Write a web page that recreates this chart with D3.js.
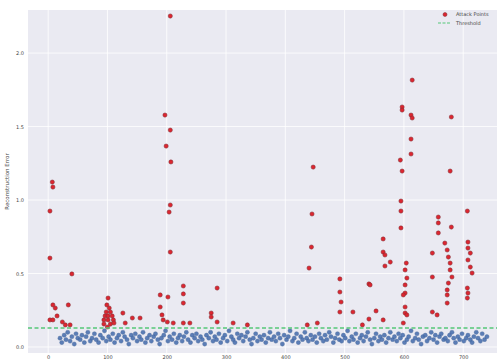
<!DOCTYPE html>
<html>
<head>
<meta charset="utf-8">
<script src="https://cdn.jsdelivr.net/npm/d3@7"></script>
<style>
  body { margin: 0; background: #fff; }
  text { font-family: "DejaVu Sans", sans-serif; fill: #444; }
</style>
</head>
<body>
<div id="chart"></div>
<script>
// reconstruction error per sample, attacks vs normal traffic

const xTicks = [0, 100, 200, 300, 400, 500, 600, 700];
const yTicks = [0.0, 0.5, 1.0, 1.5, 2.0];
const threshold = 0.129;

const attackIdx = [7, 8, 3, 3, 40, 8, 12, 3, 8, 24, 34, 37, 29, 15,
  101, 99, 103, 98, 105, 96, 101, 108, 94, 101, 110, 94, 105, 111, 100, 126, 142, 155, 130,
  206, 197, 206, 199, 207, 206, 204, 206, 189, 202, 189, 192, 194, 201, 211, 228, 228, 228, 228, 239,
  285, 275, 275, 285, 312, 336,
  447, 445, 444, 440, 437, 454,
  492, 492, 494, 492, 514, 541, 553, 541, 530, 565,
  565, 565, 568, 577, 568, 543, 614, 597, 597, 612, 614, 612, 612, 594, 597, 595, 595, 595,
  604, 602, 605, 602, 602, 602, 599, 602, 605, 599,
  658, 658, 658, 648, 648, 648, 656, 680, 678, 680, 669, 673, 675, 678, 678, 681, 675, 673, 673, 673,
  707, 708, 708, 712, 708, 712, 715, 707, 708, 707];
const attackErr = [1.122, 1.088, 0.925, 0.605, 0.497, 0.286, 0.265, 0.184, 0.184, 0.170, 0.286, 0.150, 0.150, 0.211,
  0.333, 0.286, 0.265, 0.238, 0.238, 0.211, 0.211, 0.211, 0.184, 0.184, 0.184, 0.156, 0.156, 0.163, 0.136, 0.231, 0.197, 0.197, 0.163,
  2.252, 1.578, 1.476, 1.367, 1.259, 0.966, 0.918, 0.646, 0.354, 0.340, 0.272, 0.218, 0.184, 0.170, 0.163, 0.415, 0.361, 0.299, 0.163, 0.163,
  0.401, 0.231, 0.204, 0.170, 0.163, 0.150,
  1.224, 0.905, 0.680, 0.537, 0.150, 0.163,
  0.463, 0.374, 0.306, 0.238, 0.238, 0.429, 0.245, 0.190, 0.150, 0.184,
  0.735, 0.646, 0.626, 0.578, 0.551, 0.422, 1.816, 1.633, 1.612, 1.578, 1.558, 1.415, 1.313, 1.272, 1.197, 0.993, 0.925, 0.810,
  0.571, 0.524, 0.469, 0.422, 0.367, 0.272, 0.354, 0.231, 0.218, 0.163,
  0.884, 0.844, 0.776, 0.639, 0.476, 0.238, 0.218, 1.565, 1.197, 0.816, 0.707, 0.660, 0.612, 0.571, 0.524, 0.476, 0.435, 0.388, 0.354, 0.299,
  0.925, 0.714, 0.673, 0.639, 0.592, 0.544, 0.503, 0.401, 0.367, 0.333];

const normalIdx = [20, 23, 27, 30, 33, 37, 40, 44, 47, 50, 54, 57, 61, 64, 67, 71, 74, 78, 81, 85,
  88, 92, 95, 98, 102, 105, 109, 112, 116, 119, 123, 126, 129, 133, 136, 140, 143, 147, 150, 154,
  157, 160, 164, 167, 171, 174, 178, 181, 185, 188, 191, 195, 198, 202, 205, 209, 212, 216, 219, 222,
  226, 229, 233, 236, 240, 243, 247, 250, 253, 257, 260, 264, 267, 271, 274, 278, 281, 284, 288, 291,
  295, 298, 302, 305, 309, 312, 315, 319, 322, 326, 329, 333, 336, 340, 343, 346, 350, 353, 357, 360,
  364, 367, 371, 374, 377, 381, 384, 388, 391, 395, 398, 402, 405, 408, 412, 415, 419, 422, 426, 429,
  433, 436, 439, 443, 446, 450, 453, 457, 460, 464, 467, 470, 474, 477, 481, 484, 488, 491, 495, 498,
  501, 505, 508, 512, 515, 519, 522, 526, 529, 532, 536, 539, 543, 546, 550, 553, 557, 560, 563, 567,
  570, 574, 577, 581, 584, 588, 591, 594, 598, 601, 605, 608, 612, 615, 619, 622, 625, 629, 632, 636,
  639, 643, 646, 650, 653, 656, 660, 663, 667, 670, 674, 677, 681, 684, 687, 691, 694, 698, 701, 705,
  708, 712, 715, 718, 722, 725, 729, 732, 736, 740];
const normalErr = [.06, .03, .08, .05, .10, .04, .07, .02, .09, .06, .05, .08, .03, .07, .10, .04, .06, .09, .05, .03,
  .08, .06, .11, .04, .07, .05, .09, .03, .06, .08, .04, .10, .07, .05, .02, .08, .06, .09, .04, .07,
  .05, .10, .03, .06, .08, .04, .07, .09, .05, .02, .06, .08, .11, .04, .07, .05, .09, .03, .06, .08,
  .04, .07, .10, .05, .03, .08, .06, .09, .04, .07, .05, .02, .08, .06, .10, .04, .07, .05, .09, .03,
  .06, .08, .04, .11, .07, .05, .03, .09, .06, .08, .04, .07, .10, .05, .02, .06, .09, .04, .07, .05,
  .08, .03, .06, .10, .05, .07, .04, .09, .06, .02, .08, .05, .07, .11, .04, .06, .09, .03, .07, .05,
  .10, .06, .04, .08, .05, .07, .03, .09, .06, .04, .08, .05, .10, .07, .03, .06, .09, .05, .04, .08,
  .06, .11, .04, .07, .05, .09, .03, .06, .08, .04, .07, .10, .05, .02, .06, .09, .04, .07, .05, .08,
  .03, .06, .10, .05, .07, .04, .09, .06, .08, .03, .05, .07, .11, .04, .06, .09, .05, .02, .07, .08,
  .04, .06, .10, .05, .08, .03, .07, .09, .05, .06, .04, .08, .10, .06, .03, .07, .05, .09, .04, .06,
  .08, .05, .03, .07, .10, .06, .04, .09, .05, .07];

const width = 499, height = 362;
const plot = { left: 28, right: 497, top: 10, bottom: 353 };

const svg = d3.select("#chart").append("svg")
  .attr("width", width)
  .attr("height", height);

const x = d3.scaleLinear().domain([-34, 757]).range([plot.left, plot.right]);
const y = d3.scaleLinear().domain([-0.041, 2.293]).range([plot.bottom, plot.top]);

// seaborn style background
svg.append("rect")
  .attr("x", plot.left).attr("y", plot.top)
  .attr("width", plot.right - plot.left).attr("height", plot.bottom - plot.top)
  .attr("fill", "#eaeaf2");

const grid = svg.append("g").attr("stroke", "#fff").attr("stroke-width", 0.8);
grid.selectAll("line.v").data(xTicks).enter().append("line")
  .attr("x1", d => x(d)).attr("x2", d => x(d))
  .attr("y1", plot.top).attr("y2", plot.bottom);
grid.selectAll("line.h").data(yTicks).enter().append("line")
  .attr("x1", plot.left).attr("x2", plot.right)
  .attr("y1", d => y(d)).attr("y2", d => y(d));

// axes, labels only
const yAxis = svg.append("g")
  .attr("transform", "translate(" + plot.left + ",0)")
  .call(d3.axisLeft(y).tickValues(yTicks).tickSize(0).tickPadding(4).tickFormat(d3.format(".1f")));
yAxis.select(".domain").remove();
yAxis.selectAll("text").style("font-size", "5px").attr("fill", "#555");

const xAxis = svg.append("g")
  .attr("transform", "translate(0," + plot.bottom + ")")
  .call(d3.axisBottom(x).tickValues(xTicks).tickSize(0).tickPadding(2));
xAxis.select(".domain").remove();
xAxis.selectAll("text").style("font-size", "5px").attr("fill", "#555");

svg.append("text")
  .attr("transform", "translate(9," + (plot.top + plot.bottom) / 2 + ") rotate(-90)")
  .attr("text-anchor", "middle")
  .style("font-size", "5.5px")
  .text("Reconstruction Error");

// normal samples
svg.append("g").selectAll("circle")
  .data(normalIdx.map((d, i) => [d, normalErr[i]]))
  .enter().append("circle")
  .attr("cx", d => x(d[0]))
  .attr("cy", d => y(d[1]))
  .attr("r", 2.1)
  .attr("fill", "#4c72b0")
  .attr("stroke", "#3c5f96")
  .attr("stroke-width", 0.4)
  .style("opacity", 0.9);

// attack samples
svg.append("g").selectAll("circle")
  .data(attackIdx.map((d, i) => [d, attackErr[i]]))
  .enter().append("circle")
  .attr("cx", d => x(d[0]))
  .attr("cy", d => y(d[1]))
  .attr("r", 2.1)
  .attr("fill", "#dc2630")
  .attr("stroke", "#7a2a30")
  .attr("stroke-width", 0.5);

// threshold
svg.append("line")
  .attr("x1", plot.left).attr("x2", plot.right)
  .attr("y1", y(threshold)).attr("y2", y(threshold))
  .attr("stroke", "#55c878")
  .attr("stroke-width", 1.3)
  .attr("stroke-dasharray", "4,2.5");

// legend
const legend = svg.append("g").attr("transform", "translate(436,9)");
legend.append("circle")
  .attr("cx", 9).attr("cy", 5.5).attr("r", 2)
  .attr("fill", "#dc2630").attr("stroke", "#7a2a30").attr("stroke-width", 0.5);
legend.append("line")
  .attr("x1", 2).attr("x2", 14).attr("y1", 14).attr("y2", 14)
  .attr("stroke", "#55c878").attr("stroke-width", 1.2).attr("stroke-dasharray", "3,1.5");
legend.append("text").attr("x", 20).attr("y", 7.3).style("font-size", "5px").text("Attack Points");
legend.append("text").attr("x", 20).attr("y", 15.8).style("font-size", "5px").text("Threshold");
</script>
</body>
</html>
